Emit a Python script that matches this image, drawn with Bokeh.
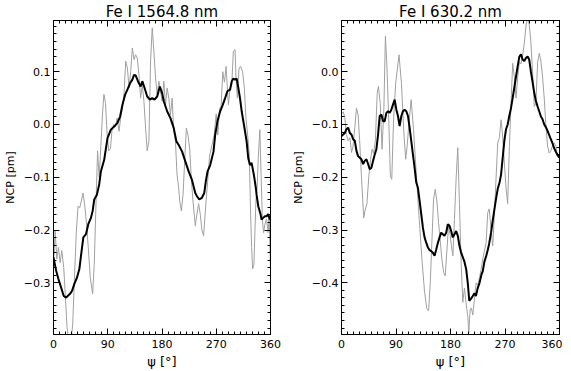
import numpy as np
from bokeh.plotting import figure
from bokeh.layouts import row
from bokeh.models import FixedTicker, LinearAxis, CustomJSTickFormatter, Range1d
from bokeh.embed import file_html
from bokeh.resources import INLINE

# ---------------- data ----------------
titles = ["Fe I 1564.8 nm", "Fe I 630.2 nm"]
x_ticks = [0, 90, 180, 270, 360]
y_ticks_1564 = [-0.3, -0.2, -0.1, 0.0, 0.1]
y_ticks_630 = [-0.4, -0.3, -0.2, -0.1, 0.0]
y_range_1564 = (-0.398, 0.197)
y_range_630 = (-0.498, 0.097)

# Fe I 1564.8 nm, raw (grey)
psi_raw_1564 = [0, 2.7, 5.5, 8.2, 11, 13.7, 17, 19.8, 22.5, 25.3, 29.1, 31.9, 34.6, 37.9, 40.7,
                43.4, 46.2, 48.9, 51.7, 54.4, 57.7, 61, 64.9, 67.6, 70.3, 73.1, 75.8, 78.6, 81.3,
                83.6, 86.3, 89, 91.7, 94.5, 97.2, 100, 102.8, 105.5, 108.8, 111.6, 114.3, 117.1,
                119.8, 122.6, 125.3, 128.1, 130.8, 133.6, 136.3, 139, 141.8, 144.5, 147.3, 150,
                152.8, 155.5, 158.3, 161, 163.8, 166.5, 169.3, 172, 174.8, 177.5, 180.3, 183,
                185.8, 188.5, 191.3, 194, 196.8, 199.5, 202.3, 205, 207.8, 209.4, 212.1, 214.9,
                217.6, 220.4, 223.1, 225.9, 228.6, 231.4, 235.2, 238, 240.7, 243.5, 246.2, 249,
                252.8, 255.6, 258.9, 262.7, 266.6, 269.9, 272.6, 275.4, 278.1, 280.8, 283.6,
                286.3, 290.2, 292.9, 295.7, 298.4, 301.2, 302.8, 305, 307.8, 310.5, 313.8, 316.6,
                319.3, 322.1, 324.8, 327, 328.7, 330.3, 332.5, 334.2, 335.8, 338, 339.7, 342.3,
                344.5, 346.5, 348.5, 350.6, 353.4, 356.1, 357.7, 360]
ncp_raw_1564 = [-0.271, -0.202, -0.255, -0.233, -0.262, -0.239, -0.271, -0.328, -0.385, -0.41,
                -0.41, -0.378, -0.296, -0.202, -0.155, -0.158, -0.145, -0.13, -0.152, -0.183,
                -0.233, -0.29, -0.321, -0.265, -0.158, -0.05, -0.10, -0.04, 0.02, 0.057, 0.04,
                -0.02, -0.05, -0.045, -0.01, 0.0, -0.005, 0.012, -0.013, 0.015, 0.031, 0.06, 0.12,
                0.107, 0.069, 0.1, 0.145, 0.123, 0.132, 0.126, 0.094, 0.05, 0.075, 0.044, -0.007,
                -0.05, -0.032, 0.12, 0.183, 0.139, 0.088, 0.056, 0.082, 0.063, 0.044, 0.082,
                0.037, 0.069, 0.05, 0.018, 0.05, -0.013, -0.032, -0.096, -0.121, -0.145, -0.164,
                -0.133, -0.07, -0.007, -0.02, -0.045, -0.102, -0.145, -0.192, -0.17, -0.15,
                -0.17, -0.2, -0.211, -0.15, -0.11, -0.06, -0.04, -0.02, 0.02, -0.02, 0.03, 0.035,
                0.1, 0.08, 0.11, 0.037, 0.069, 0.075, 0.139, 0.142, 0.088, 0.05, 0.107, 0.11,
                0.1, 0.069, 0.012, -0.02, -0.058, -0.17, -0.233, -0.274, -0.265, -0.202, -0.145,
                -0.115, -0.064, -0.01, -0.1, -0.18, -0.205, -0.19, -0.179, -0.205, -0.17, -0.277]

# Fe I 1564.8 nm, smoothed (black)
psi_avg_1564 = [0, 4.4, 8.2, 12.6, 17, 20.9, 23.6, 27.5, 30.8, 34.6, 39, 42.9, 45.6, 49.5, 53.9,
                57.7, 62.1, 64.9, 67.6, 72, 75.8, 78.6, 84.1, 89.6, 95.1, 100.6, 106.1, 110.5,
                114.3, 118.7, 122.6, 127, 130.8, 133.6, 136.3, 140.1, 144.5, 147.3, 151.1, 155.5,
                159.9, 163.8, 167.6, 172, 176.4, 180.3, 183, 188.5, 194, 199.5, 203.9, 207.7,
                213.2, 218.7, 224.2, 229.7, 235.2, 238, 241.8, 246.2, 250.1, 252.8, 255.6, 260,
                265.5, 268.2, 272, 276.5, 280.8, 284.7, 288.5, 293, 295.7, 298.4, 301.2, 303.9,
                306.7, 309.4, 312.2, 316, 320.4, 323.1, 325.9, 328.7, 332.5, 335.8, 336.9, 339.7,
                343.5, 345.1, 347.9, 350.6, 353.4, 356.1, 358.9, 360]
ncp_avg_1564 = [-0.252, -0.277, -0.293, -0.309, -0.325, -0.328, -0.325, -0.321, -0.315, -0.302,
                -0.29, -0.274, -0.249, -0.214, -0.208, -0.189, -0.177, -0.164, -0.142, -0.133,
                -0.114, -0.089, -0.067, -0.026, -0.010, -0.004, 0.003, 0.015, 0.037, 0.056, 0.066,
                0.078, 0.085, 0.094, 0.093, 0.082, 0.072, 0.082, 0.069, 0.053, 0.047, 0.05, 0.047,
                0.053, 0.072, 0.059, 0.044, 0.025, 0.012, -0.007, -0.032, -0.039, -0.051, -0.07,
                -0.089, -0.105, -0.13, -0.136, -0.142, -0.139, -0.13, -0.107, -0.089, -0.077,
                -0.051, -0.02, 0.006, 0.025, 0.037, 0.05, 0.063, 0.066, 0.082, 0.087, 0.085,
                0.087, 0.069, 0.05, 0.025, -0.001, -0.032, -0.064, -0.077, -0.073, -0.096, -0.121,
                -0.133, -0.155, -0.17, -0.18, -0.177, -0.174, -0.174, -0.17, -0.18, -0.178]

# Fe I 630.2 nm, raw (grey)
psi_raw_630 = [0, 3, 5.5, 8, 11, 14, 16.5, 19, 22, 24.7, 27.4, 30, 33, 36.7, 39.5, 42, 45, 48,
               50.5, 53, 56, 59, 61, 64, 67, 70, 72.5, 75, 78, 80.7, 83, 86, 89.5, 95, 99, 103,
               106, 108.5, 111, 115, 119, 122, 125, 127.3, 132.8, 137.2, 141, 143.8, 146.6,
               149.2, 152, 154.8, 157.5, 160.3, 163, 165.7, 168.5, 171.3, 174, 176.7, 179.5,
               181.5, 183.9, 186.5, 189.4, 192, 194.8, 197.6, 200.3, 203, 205.8, 208.5, 210.2,
               212.5, 214.5, 216.8, 219.5, 222.3, 225, 227.8, 230.5, 233.3, 236, 238.8, 241.5,
               244, 247, 249.7, 252.5, 255.3, 258, 260.7, 263.5, 266, 269, 271.7, 274.4, 277,
               280, 282.7, 285.5, 288.2, 291, 293.7, 296.5, 299, 301.9, 304.6, 307.4, 310,
               312.9, 315.6, 318.4, 321, 323.9, 326.6, 329.3, 332, 334.8, 337.6, 340.3, 343,
               345.8, 348.5, 351.3, 354, 356.8, 360]
ncp_raw_630 = [-0.081, -0.076, -0.087, -0.119, -0.131, -0.125, -0.153, -0.142, -0.106, -0.069,
               -0.081, -0.131, -0.2, -0.277, -0.26, -0.25, -0.2, -0.166, -0.147, -0.155, -0.13,
               -0.04, -0.028, -0.06, -0.147, -0.07, 0.067, 0.01, -0.09, -0.198, -0.204, -0.09,
               -0.022, 0.032, -0.022, -0.116, -0.166, -0.14, -0.103, -0.053, -0.11, -0.166,
               -0.22, -0.261, -0.355, -0.418, -0.45, -0.453, -0.4, -0.324, -0.242, -0.223,
               -0.245, -0.286, -0.32, -0.355, -0.38, -0.387, -0.34, -0.292, -0.31, -0.33,
               -0.349, -0.28, -0.2, -0.144, -0.25, -0.362, -0.437, -0.41, -0.44, -0.463, -0.494,
               -0.45, -0.448, -0.461, -0.431, -0.40, -0.405, -0.39, -0.375, -0.355, -0.34,
               -0.324, -0.267, -0.26, -0.30, -0.33, -0.27, -0.2, -0.135, -0.125, -0.091, -0.12,
               -0.173, -0.22, -0.25, -0.15, -0.059, 0.016, -0.01, -0.05, -0.01, 0.018, 0.015,
               0.03, 0.054, 0.086, 0.105, 0.09, 0.054, -0.003, -0.066, -0.06, 0.018, 0.035,
               0.02, -0.01, -0.05, -0.103, -0.141, -0.154, -0.15, -0.14, -0.135, -0.141, -0.16,
               -0.165]

# Fe I 630.2 nm, smoothed (black)
psi_avg_630 = [0, 2.7, 5.5, 8.2, 11, 13.7, 16.5, 19.2, 22, 24.7, 27.4, 30.2, 32.9, 35.7, 38.4,
               41.2, 43.9, 46.6, 49.4, 52.1, 54.9, 57.6, 60.4, 63.1, 65.9, 68.6, 71.3, 74.1,
               76.8, 79.6, 82.3, 87.8, 90.6, 93.3, 96, 98.8, 101.5, 104.3, 107, 109.8, 112.5,
               115.2, 118, 120.7, 123.5, 126.2, 129, 131.7, 134.5, 137.2, 139.9, 142.7, 145.4,
               148.2, 150.9, 153.7, 156.4, 159.2, 161.9, 164.6, 167.4, 170.1, 172.9, 175.6,
               178.4, 181.1, 183.8, 186.6, 189.3, 192.1, 194.8, 197.6, 203, 206, 208.5, 211,
               214, 216.8, 219.5, 222, 225, 228, 231, 233.3, 236, 238.8, 241.5, 244, 247, 250,
               252.5, 255.3, 258, 261, 263.5, 266.2, 268.9, 271.7, 274.4, 277.1, 279.9, 282.6,
               285.4, 288.1, 290.9, 293.6, 296.4, 299.1, 301.8, 304.6, 307.3, 310, 312.8, 315.6,
               318.3, 321, 323.8, 326.5, 329.3, 332, 334.8, 337.5, 340.3, 343, 345.7, 348.5,
               351.2, 354, 356.7, 360]
ncp_avg_630 = [-0.122, -0.119, -0.116, -0.109, -0.106, -0.116, -0.119, -0.128, -0.131, -0.15,
               -0.16, -0.163, -0.166, -0.175, -0.169, -0.166, -0.175, -0.185, -0.182, -0.169,
               -0.157, -0.147, -0.119, -0.084, -0.081, -0.094, -0.094, -0.078, -0.075, -0.078,
               -0.072, -0.053, -0.072, -0.084, -0.103, -0.084, -0.075, -0.072, -0.075, -0.084,
               -0.106, -0.131, -0.157, -0.182, -0.21, -0.22, -0.245, -0.27, -0.296, -0.314,
               -0.324, -0.333, -0.338, -0.34, -0.343, -0.349, -0.337, -0.324, -0.314, -0.305,
               -0.308, -0.311, -0.305, -0.289, -0.292, -0.302, -0.314, -0.308, -0.302, -0.311,
               -0.33, -0.343, -0.36, -0.375, -0.40, -0.434, -0.43, -0.425, -0.42, -0.425, -0.41,
               -0.40, -0.385, -0.378, -0.36, -0.35, -0.338, -0.325, -0.305, -0.28, -0.261,
               -0.24, -0.222, -0.21, -0.195, -0.163, -0.131, -0.109, -0.1, -0.084, -0.069,
               -0.05, -0.03, -0.01, 0.01, 0.028, 0.033, 0.023, 0.02, 0.026, 0.029, 0.023, 0.0,
               -0.02, -0.04, -0.055, -0.066, -0.075, -0.085, -0.09, -0.1, -0.105, -0.112, -0.12,
               -0.128, -0.136, -0.145, -0.152, -0.158, -0.163]

# ---------------- styling ----------------
FONT = "DejaVu Sans"
GREY = "#a0a0a0"

y_fmt = CustomJSTickFormatter(code="""
const v = Math.round(tick * 10) / 10;
const s = Math.abs(v).toFixed(1);
return v < 0 ? "\\u2212" + s : s;
""")
blank_fmt = CustomJSTickFormatter(code="return '';")


def style_axis(ax, ticker, show_labels):
    ax.ticker = ticker
    ax.axis_line_color = "black"
    ax.axis_line_width = 1
    ax.major_tick_line_color = "black"
    ax.minor_tick_line_color = "black"
    ax.major_tick_in = 6
    ax.major_tick_out = 0
    ax.minor_tick_in = 3
    ax.minor_tick_out = 0
    ax.major_label_text_font = FONT
    ax.major_label_text_color = "black"
    ax.axis_label_text_font = FONT
    ax.axis_label_text_color = "black"
    ax.axis_label_text_font_style = "normal"
    if show_labels:
        ax.major_label_text_font_size = "11px"
        ax.major_label_standoff = 3
    else:
        ax.formatter = blank_fmt
        ax.major_label_text_font_size = "1px"
        ax.major_label_standoff = 0


def panel(title, xr, yr, xa, ya, yrange, yticks, width, border_left, border_right):
    p = figure(width=width, height=371, output_backend="svg", toolbar_location=None,
               x_range=Range1d(0, 360), y_range=Range1d(*yrange),
               min_border_left=border_left, min_border_right=border_right,
               min_border_top=15, min_border_bottom=37,
               background_fill_color="white", border_fill_color="white",
               outline_line_color="black", outline_line_width=1)
    p.title.text = title
    p.title.text_font = FONT
    p.title.text_font_size = "15px"
    p.title.text_font_style = "normal"
    p.title.text_color = "black"
    p.title.align = "center"
    p.title.standoff = 0
    p.title.offset = 0
    p.xgrid.visible = False
    p.ygrid.visible = False

    xt = FixedTicker(ticks=x_ticks, minor_ticks=list(np.arange(0, 361, 10)))
    yt = FixedTicker(ticks=yticks,
                     minor_ticks=list(np.round(np.arange(-0.6, 0.3, 0.1 / 7), 5)))

    style_axis(p.xaxis[0], xt, True)
    style_axis(p.yaxis[0], yt, True)
    p.xaxis[0].major_label_standoff = 5
    p.yaxis[0].formatter = y_fmt
    p.xaxis[0].axis_label = "\u03c8 [\u00b0]"
    p.xaxis[0].axis_label_text_font_size = "13px"
    p.xaxis[0].axis_label_standoff = 3
    p.yaxis[0].axis_label = "NCP [pm]"
    p.yaxis[0].axis_label_text_font_size = "11px"
    p.yaxis[0].axis_label_standoff = 4

    ax_top = LinearAxis()
    style_axis(ax_top, xt, False)
    p.add_layout(ax_top, "above")
    ax_right = LinearAxis()
    style_axis(ax_right, yt, False)
    p.add_layout(ax_right, "right")

    p.line(xr, yr, line_color=GREY, line_width=1)
    p.line(xa, ya, line_color="black", line_width=2)
    return p


p1 = panel(titles[0], psi_raw_1564, ncp_raw_1564, psi_avg_1564, ncp_avg_1564,
           y_range_1564, y_ticks_1564, 284, 46, 14)
p2 = panel(titles[1], psi_raw_630, ncp_raw_630, psi_avg_630, ncp_avg_630,
           y_range_630, y_ticks_630, 278, 57, 3)

layout = row(p1, p2, spacing=0)
open("out.html", "w").write(file_html(layout, INLINE))
